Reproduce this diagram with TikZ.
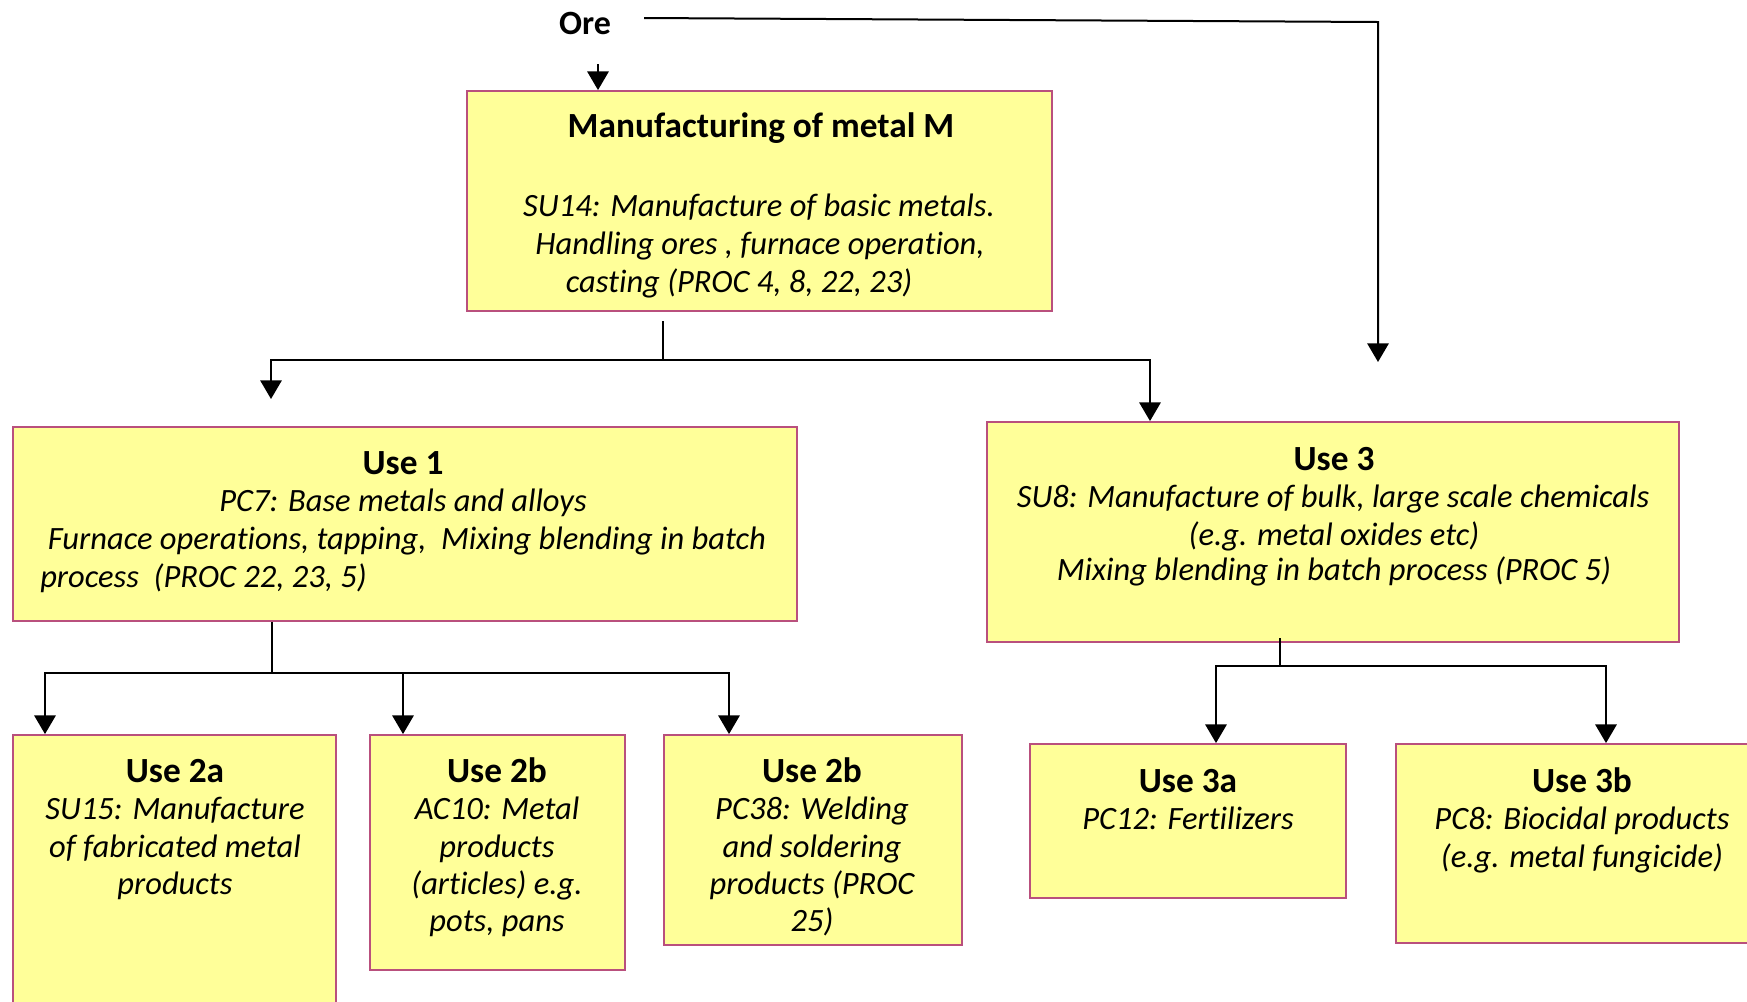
\documentclass[tikz,border=0pt]{standalone}
\usepackage{fontspec}
\setmainfont{Carlito}[Ligatures={NoCommon,NoContextual}]
\usetikzlibrary{arrows.meta,fit}
\definecolor{boxfill}{RGB}{255,255,153}
\definecolor{boxline}{RGB}{185,80,125}
\begin{document}
\begin{tikzpicture}[x=0.75pt,y=-0.75pt,
  box/.style={draw=boxline, fill=boxfill, line width=1.4pt, inner sep=0pt},
  ttl/.style={font=\fontsize{26.5}{30}\selectfont\bfseries, anchor=base, inner sep=0pt},
  txt/.style={font=\fontsize{24.4}{29}\selectfont\itshape, anchor=base, inner sep=0pt},
  lft/.style={txt, anchor=base west},
  conn/.style={line width=1.5pt},
  arr/.style={conn, -{Triangle[width=16pt,length=14pt]}}]
\useasboundingbox (0,0) rectangle (1747,1001);

% boxes
\node[box, fit={(467,91) (1052,311)}] (mfg) {};
\node[box, fit={(13,427) (797,621)}] (use1) {};
\node[box, fit={(987,422) (1679,642)}] (use3) {};
\node[box, fit={(13,735) (336,1015)}] (use2a) {};
\node[box, fit={(370,735) (625,970)}] (use2b) {};
\node[box, fit={(664,735) (962,945)}] (use2c) {};
\node[box, fit={(1030,744) (1346,898)}] (use3a) {};
\node[box, fit={(1396,744) (1765,943)}] (use3b) {};

% texts
\node[ttl, font=\fontsize{25.5}{30}\selectfont\bfseries] (ore) at (585,34) {Ore};

\node[ttl] (mfgT) at (761,137) {Manufacturing of metal M};
\node[txt] (mfgL1) at (759,216) {SU14: Manufacture of basic metals.};
\node[txt] (mfgL2) at (760,254) {Handling ores , furnace operation,};
\node[txt] (mfgL3) at (739,292) {casting (PROC 4, 8, 22, 23)};

\node[ttl] (u1T) at (403,474) {Use 1};
\node[txt] (u1L1) at (403,511) {PC7: Base metals and alloys};
\node[txt] (u1L2) at (407,549) {Furnace operations, tapping,\ \ Mixing blending in batch};
\node[lft] (u1L3) at (40,587) {process\ \ (PROC 22, 23, 5)};

\node[ttl] (u3T) at (1334,470) {Use 3};
\node[txt] (u3L1) at (1333,507) {SU8: Manufacture of bulk, large scale chemicals};
\node[txt] (u3L2) at (1334,545) {(e.g. metal oxides etc)};
\node[txt] (u3L3) at (1334,580) {Mixing blending in batch process (PROC 5)};

\node[ttl] (u2aT) at (175,782) {Use 2a};
\node[txt] (u2aL1) at (175,819) {SU15: Manufacture};
\node[txt] (u2aL2) at (175,857) {of fabricated metal};
\node[txt] (u2aL3) at (175,894) {products};

\node[ttl] (u2bT) at (497,782) {Use 2b};
\node[txt] (u2bL1) at (497,819) {AC10: Metal};
\node[txt] (u2bL2) at (497,857) {products};
\node[txt] (u2bL3) at (497,894) {(articles) e.g.};
\node[txt] (u2bL4) at (497,931) {pots, pans};

\node[ttl] (u2cT) at (812,782) {Use 2b};
\node[txt] (u2cL1) at (812,819) {PC38: Welding};
\node[txt] (u2cL2) at (812,857) {and soldering};
\node[txt] (u2cL3) at (812,894) {products (PROC};
\node[txt] (u2cL4) at (812,931) {25)};

\node[ttl] (u3aT) at (1188,792) {Use 3a};
\node[txt] (u3aL1) at (1188,829) {PC12: Fertilizers};

\node[ttl] (u3bT) at (1582,792) {Use 3b};
\node[txt] (u3bL1) at (1582,829) {PC8: Biocidal products};
\node[txt] (u3bL2) at (1582,867) {(e.g. metal fungicide)};

% connectors
\coordinate (oreS) at (598,64);
\draw[arr] (oreS) -- (oreS |- mfg.north);

\coordinate (topL) at (644,18);
\coordinate (topR) at (1378,22);
\coordinate (topE) at (1378,362);
\draw[arr] (topL) -- (topR) -- (topE);

\coordinate (m0) at (663,321);
\coordinate (m1) at (663,360);
\coordinate (t1) at (271,399);
\draw[conn] (m0) -- (m1);
\draw[arr] (m1) -| (t1);
\draw[arr] (m1) -| (1150,360 |- use3.north);

\coordinate (u0) at (272,673);
\draw[conn] (use1.south -| u0) -- (u0);
\draw[arr] (u0) -| (use2a.north -| 45,0);
\draw[arr] (u0) -| (use2b.north -| 403,0);
\draw[arr] (u0) -| (use2c.north -| 729,0);

\coordinate (v0) at (1280,666);
\draw[conn] (1280,638) -- (v0);
\draw[arr] (v0) -| (use3a.north -| 1216,0);
\draw[arr] (v0) -| (use3b.north -| 1606,0);
\end{tikzpicture}
\end{document}
